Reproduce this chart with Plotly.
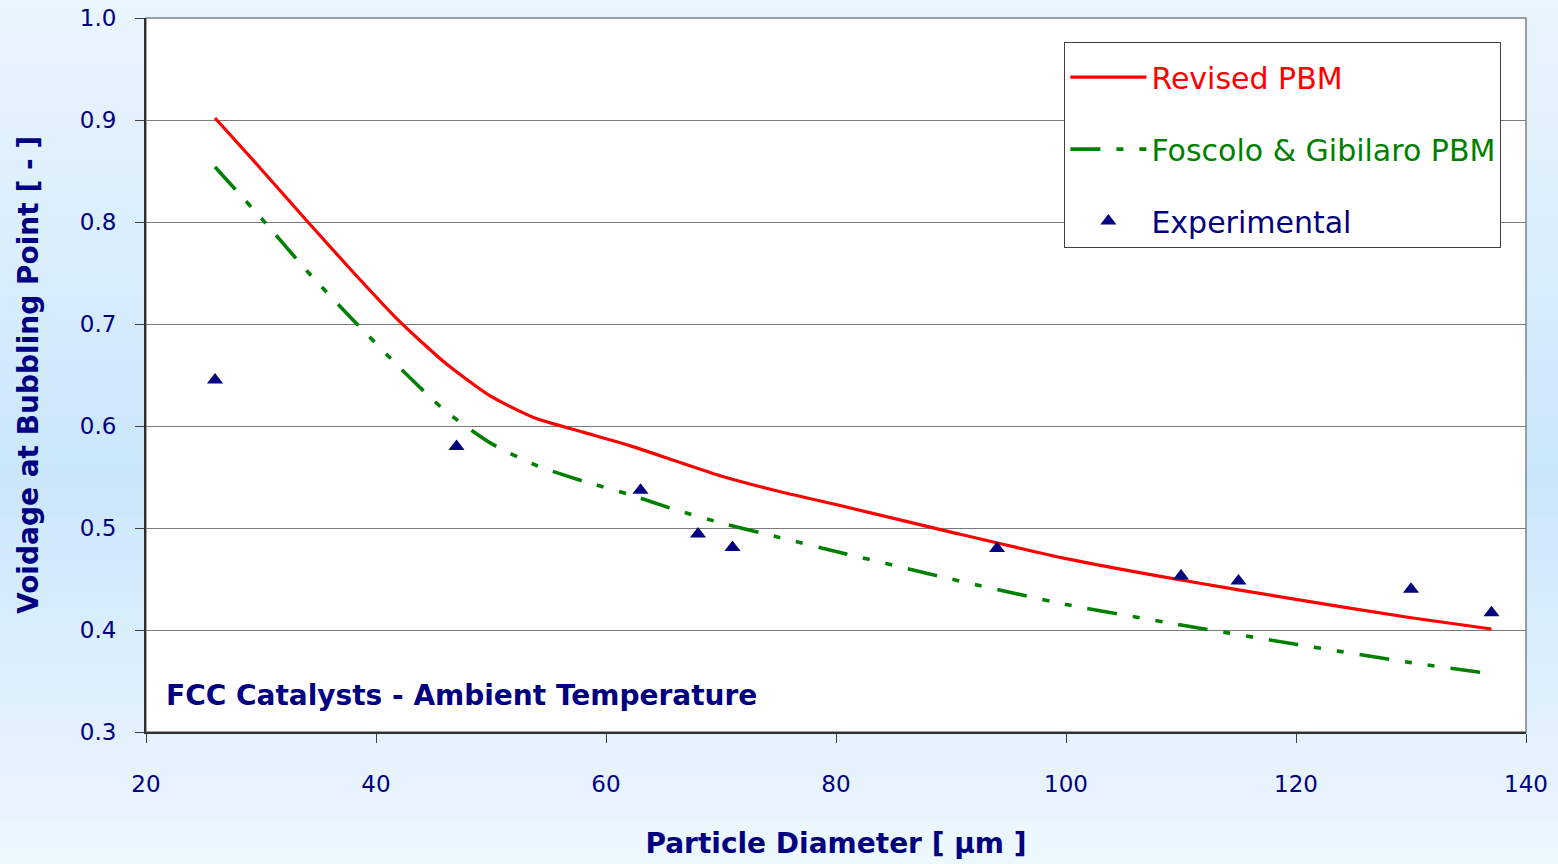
import plotly.graph_objects as go

# ---- data ----
model_x = [26, 30, 34, 38, 42, 46, 50, 54, 58, 62, 66, 70, 75, 80, 90, 100, 110, 120, 130, 137]
revised_pbm = [0.902, 0.852, 0.801, 0.751, 0.703, 0.662, 0.629, 0.607, 0.594, 0.581, 0.566, 0.551,
               0.536, 0.523, 0.496, 0.470, 0.449, 0.430, 0.412, 0.401]
foscolo_pbm = [0.854, 0.804, 0.752, 0.704, 0.658, 0.615, 0.583, 0.561, 0.546, 0.533, 0.518, 0.505,
               0.491, 0.477, 0.450, 0.425, 0.405, 0.386, 0.368, 0.357]
exp_x = [26, 47, 63, 68, 71, 94, 110, 115, 130, 137]
exp_y = [0.645, 0.580, 0.537, 0.494, 0.481, 0.480, 0.453, 0.448, 0.440, 0.417]
y_ticks = [0.3, 0.4, 0.5, 0.6, 0.7, 0.8, 0.9, 1.0]
x_ticks = [20, 40, 60, 80, 100, 120, 140]

NAVY = "#000080"
FONT = "DejaVu Sans"

fig = go.Figure()
fig.add_trace(go.Scatter(x=model_x, y=revised_pbm, mode="lines",
                         name="<span style='color:#ff0000'>Revised PBM</span>",
                         line=dict(color="#ff0000", width=3.2, shape="spline", smoothing=0.6),
                         legendgroup="a"))
fig.add_trace(go.Scatter(x=model_x, y=foscolo_pbm, mode="lines",
                         name="<span style='color:#008000'>Foscolo & Gibilaro PBM</span>",
                         line=dict(color="#008000", width=3.6, shape="spline", smoothing=0.6,
                                   dash="30px,16px,7px,16px,7px,16px"),
                         legendgroup="b"))
fig.add_trace(go.Scatter(x=exp_x, y=exp_y, mode="markers",
                         name="<span style='color:#000080'>Experimental</span>",
                         marker=dict(symbol="triangle-up", size=14, color=NAVY),
                         legendgroup="c"))

# background vertical gradient (light blue, bluest near middle)
shapes = []
n = 60
top = (234, 245, 253)
mid = (203, 231, 251)
bot = (238, 247, 254)
for i in range(n):
    t = (i + 0.5) / n  # 0 top -> 1 bottom
    c0, c1, f = (top, mid, t / 0.55) if t < 0.55 else (mid, bot, (t - 0.55) / 0.45)
    col = tuple(int(round(c0[k] + (c1[k] - c0[k]) * f)) for k in range(3))
    y1 = 1 + 18 / 714 - i * (864 / 714) / n
    y0 = y1 - (864 / 714) / n - 0.002
    shapes.append(dict(type="rect", xref="paper", yref="paper", x0=-0.2, x1=1.2, y0=y0, y1=y1,
                       fillcolor="rgb(%d,%d,%d)" % col, line=dict(width=0), layer="below"))
shapes.append(dict(type="rect", xref="paper", yref="paper", x0=0, x1=1, y0=0, y1=1,
                   fillcolor="white", line=dict(color="#808080", width=1.5), layer="below"))

fig.update_layout(
    width=1558, height=864,
    margin=dict(l=146, r=32, t=18, b=132, autoexpand=False),
    paper_bgcolor="#eaf5fd", plot_bgcolor="white",
    shapes=shapes,
    showlegend=True,
    legend=dict(x=0.6655, y=0.966, xanchor="left", yanchor="top",
                bgcolor="white", bordercolor="#404040", borderwidth=1,
                font=dict(family=FONT, size=30), tracegroupgap=30,
                title=dict(text=" ", font=dict(size=6)),
                traceorder="grouped", itemwidth=76),
    xaxis=dict(range=[20, 140], tickvals=x_ticks, ticks="outside", ticklen=9, tickcolor="#404040",
               showline=True, linecolor="#303030", linewidth=2, showgrid=False, zeroline=False,
               automargin=False,
               tickfont=dict(family=FONT, size=23, color=NAVY), ticklabelstandoff=21,
               title=dict(text="<b>Particle Diameter [ μm ]</b>", standoff=38,
                          font=dict(family=FONT, size=28, color=NAVY))),
    yaxis=dict(range=[0.3, 1.0], tickvals=y_ticks, tickformat=".1f", ticks="outside", ticklen=9,
               tickcolor="#404040", showline=True, linecolor="#303030", linewidth=2,
               showgrid=True, gridcolor="#7a7a7a", gridwidth=1.2, zeroline=False,
               automargin=False,
               tickfont=dict(family=FONT, size=23, color=NAVY), ticklabelstandoff=14),
    annotations=[
        dict(text="<b>FCC Catalysts - Ambient Temperature</b>", xref="paper", yref="y",
             x=0.013, y=0.336, xanchor="left", yanchor="middle", showarrow=False,
             font=dict(family=FONT, size=28, color=NAVY)),
        dict(text="<b>Voidage at Bubbling Point [ - ]</b>", xref="paper", yref="paper",
             x=-0.0855, y=0.5, xanchor="center", yanchor="middle", textangle=-90,
             showarrow=False, font=dict(family=FONT, size=28, color=NAVY)),
    ],
)

fig.write_html("out.html", config={"displayModeBar": False},
               post_script="document.body.style.margin='0';document.body.style.padding='0';"
                           "document.body.style.overflow='hidden';")
